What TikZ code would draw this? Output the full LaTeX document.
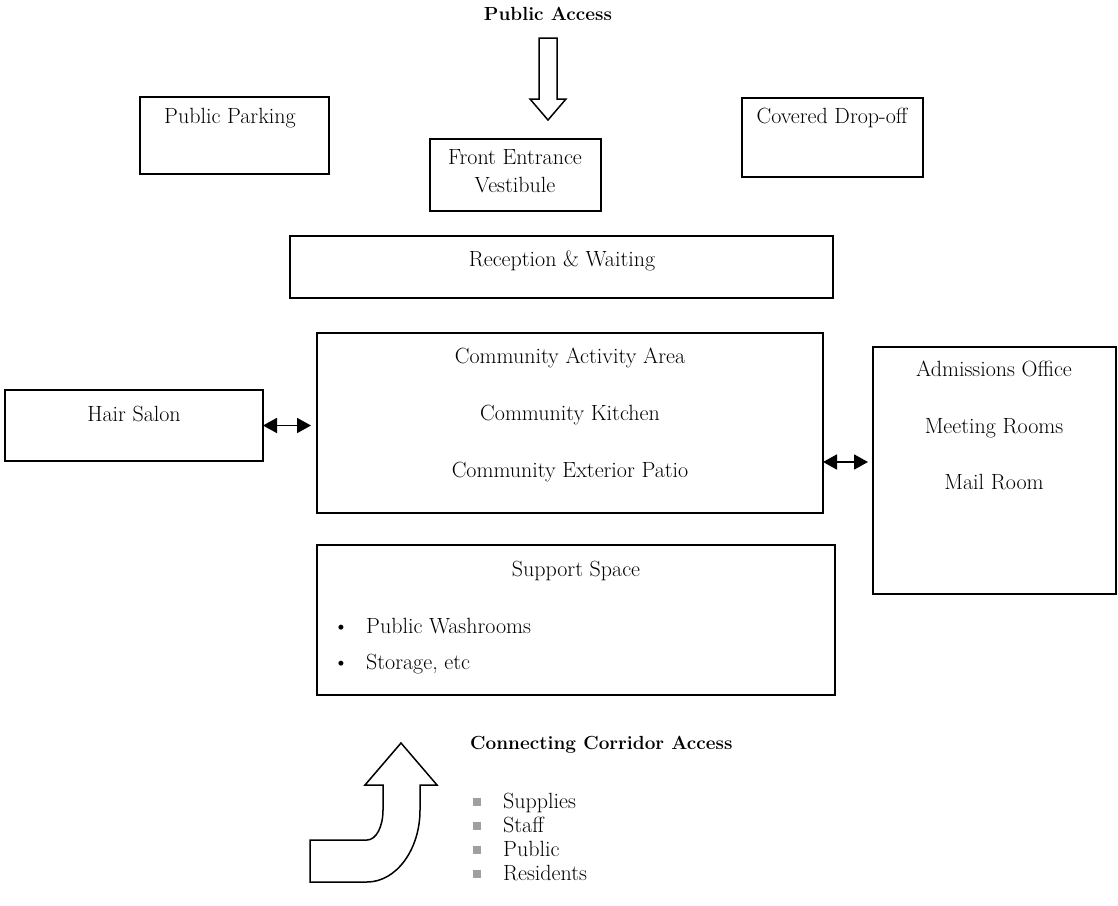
\documentclass[tikz,border=0pt]{standalone}
\usetikzlibrary{arrows.meta,fit,calc}
\definecolor{bulletgray}{RGB}{160,160,160}
\tikzset{
  room/.style={draw, line width=1.5pt, inner sep=0pt, outer sep=0pt},
  lbl/.style={font=\fontsize{22}{26}\selectfont, inner sep=0pt, anchor=base},
  lblw/.style={lbl, anchor=base west},
  ttl/.style={font=\fontsize{19}{23}\selectfont\bfseries, inner sep=0pt, anchor=base},
  link/.style={line width=1.8pt, {Triangle[length=14pt,width=15pt]}-{Triangle[length=14pt,width=15pt]}},
  blockarrow/.style={draw, line width=1.5pt, line join=miter, fill=white},
  sqbullet/.style={fill=bulletgray, minimum size=7.5pt, inner sep=0pt},
}
\begin{document}
\begin{tikzpicture}[x=1pt,y=-1pt]
\useasboundingbox (0,0) rectangle (1118,905);

% rooms
\node[room, fit={(140,97) (329,174)}]  (park)  {};
\node[room, fit={(430,139) (601,211)}] (front) {};
\node[room, fit={(742,98) (923,177)}]  (drop)  {};
\node[room, fit={(290,236) (833,298)}] (recep) {};
\node[room, fit={(317,333) (823,513)}] (comm)  {};
\node[room, fit={(5,390) (263,461)}]   (hair)  {};
\node[room, fit={(873,347) (1116,594)}] (adm)  {};
\node[room, fit={(317,545) (835,695)}] (supp)  {};

% room labels
\node[lbl] (parkT)  at (230,123) {Public Parking};
\node[lbl] (frontT1) at (515,164) {Front Entrance};
\node[lbl] (frontT2) at (515,192) {Vestibule};
\node[lbl] (dropT)  at (832,123) {Covered Drop-off};
\node[lbl] (recepT) at (562,266) {Reception \& Waiting};
\node[lbl] (commT1) at (570,363) {Community Activity Area};
\node[lbl] (commT2) at (570,420) {Community Kitchen};
\node[lbl] (commT3) at (570,477) {Community Exterior Patio};
\node[lbl] (hairT)  at (134,421) {Hair Salon};
\node[lbl] (admT1)  at (994,376) {Admissions Office};
\node[lbl] (admT2)  at (994,433) {Meeting Rooms};
\node[lbl] (admT3)  at (994,489) {Mail Room};
\node[lbl] (suppT)  at (576,576) {Support Space};
\node[lbl] (suppB1) at (341,633) {\textbullet};
\node[lblw] (suppI1) at (366,633) {Public Washrooms};
\node[lbl] (suppB2) at (341,669) {\textbullet};
\node[lblw] (suppI2) at (366,669) {Storage, etc};

% public access
\node[ttl] (pub) at (548,20) {Public Access};
\draw[blockarrow] (539,38) -- (557,38) -- (557,99) -- (566,99) -- (548,120)
  -- (530,99) -- (539,99) -- cycle;

% two-way links
\draw[link, shorten >=6pt] (hair.east) -- (hair.east -| comm.west);
\coordinate (ra) at (823,462);
\draw[link, shorten >=5pt] (ra) -- (ra -| adm.west);

% corridor access
\draw[blockarrow] (401,743) -- (437,785) -- (420,785) -- (420,810)
  .. controls (420,850) and (396,882) .. (367,882)
  -- (310,882) -- (310,840) -- (367,840)
  .. controls (376,840) and (383,827) .. (383,810)
  -- (383,785) -- (365,785) -- cycle;
\node[ttl, anchor=base west] (corr) at (470,749) {Connecting Corridor Access};
\node[sqbullet] (cb1) at (477,802) {};
\node[lblw] (ci1) at (503,808) {Supplies};
\node[sqbullet] (cb2) at (477,826) {};
\node[lblw] (ci2) at (503,832) {Staff};
\node[sqbullet] (cb3) at (477,850) {};
\node[lblw] (ci3) at (503,856) {Public};
\node[sqbullet] (cb4) at (477,874) {};
\node[lblw] (ci4) at (503,880) {Residents};
\end{tikzpicture}
\end{document}
